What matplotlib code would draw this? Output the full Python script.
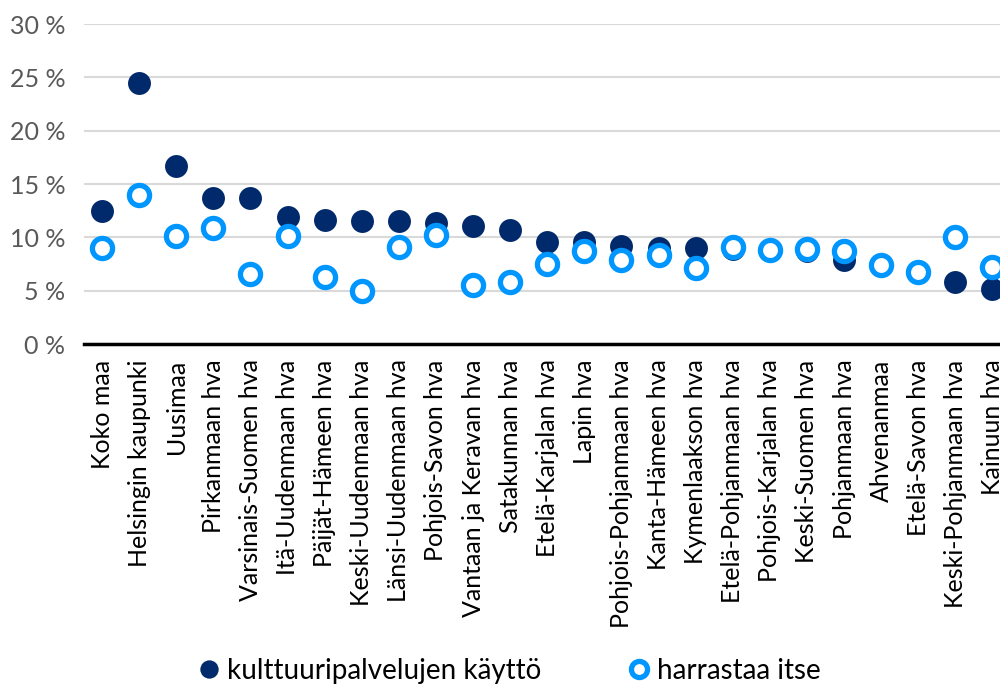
import numpy as np
import matplotlib.pyplot as plt

# Alueet ja osuudet (%)
alueet = ['Koko maa', 'Helsingin kaupunki', 'Uusimaa', 'Pirkanmaan hva',
          'Varsinais-Suomen hva', 'Itä-Uudenmaan hva', 'Päijät-Hämeen hva',
          'Keski-Uudenmaan hva', 'Länsi-Uudenmaan hva', 'Pohjois-Savon hva',
          'Vantaan ja Keravan hva', 'Satakunnan hva', 'Etelä-Karjalan hva',
          'Lapin hva', 'Pohjois-Pohjanmaan hva', 'Kanta-Hämeen hva',
          'Kymenlaakson hva', 'Etelä-Pohjanmaan hva', 'Pohjois-Karjalan hva',
          'Keski-Suomen hva', 'Pohjanmaan hva', 'Ahvenanmaa', 'Etelä-Savon hva',
          'Keski-Pohjanmaan hva', 'Kainuun hva']

kayttö = [12.5, 24.5, 16.7, 13.7, 13.7, 11.9, 11.6, 11.5, 11.5, 11.4,
          11.1, 10.7, 9.6, 9.6, 9.2, 9.0, 9.0, 8.9, 8.8, 8.7,
          7.9, 7.4, 6.8, 5.8, 5.2]
harrastaa = [9.0, 14.0, 10.1, 10.9, 6.6, 10.1, 6.3, 5.0, 9.1, 10.2,
             5.5, 5.8, 7.5, 8.7, 7.9, 8.4, 7.1, 9.1, 8.8, 8.9,
             8.7, 7.4, 6.8, 10.0, 7.2]

tummasini = '#002a6b'
vaaleansini = '#0096ff'

plt.rcParams['font.family'] = ['Lato', 'DejaVu Sans']

fig = plt.figure(figsize=(10, 6.98), dpi=100)
ax = fig.add_axes([0.0835, 0.507, 0.9275, 0.4585])

x = np.arange(len(alueet))
ax.plot(x, kayttö, 'o', color=tummasini, markersize=16.5, markeredgewidth=0,
        label='kulttuuripalvelujen käyttö', zorder=3)
ax.plot(x, harrastaa, 'o', markerfacecolor='white', markeredgecolor=vaaleansini,
        markersize=14.5, markeredgewidth=3.8, label='harrastaa itse', zorder=4)

ax.set_xlim(-0.5, len(alueet) - 0.5)
ax.set_ylim(0, 30)
ax.set_yticks(np.arange(0, 31, 5))
ax.set_yticklabels([f'{v} %' for v in range(0, 31, 5)], color='#595959', fontsize=18)
ax.set_xticks(x)
ax.set_xticklabels(alueet, rotation=90, fontsize=18, color='black')
ax.tick_params(axis='both', length=0)
ax.tick_params(axis='y', pad=13)
ax.tick_params(axis='x', pad=11)

ax.yaxis.grid(True, color='#d9d9d9', linewidth=1.5)
ax.set_axisbelow(True)
for s in ['top', 'right', 'left']:
    ax.spines[s].set_visible(False)
ax.spines['bottom'].set_linewidth(2.5)
ax.spines['bottom'].set_color('black')

fig.legend(loc='lower center', bbox_to_anchor=(0.508, -0.016), ncol=2, frameon=False,
           fontsize=20, markerscale=0.8, handlelength=1.0, handletextpad=0.15,
           columnspacing=3.0)

fig.savefig('out.png', dpi=100)
